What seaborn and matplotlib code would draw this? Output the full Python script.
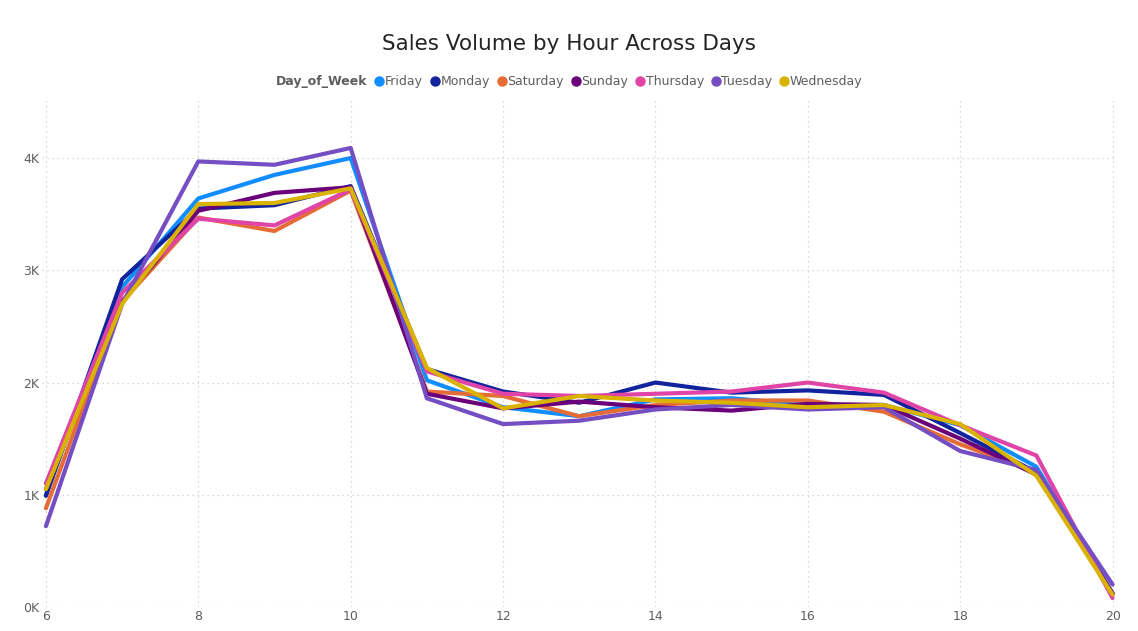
import matplotlib
matplotlib.use("Agg")
import matplotlib.pyplot as plt
import seaborn as sns
import pandas as pd
from matplotlib.ticker import FuncFormatter
from matplotlib.lines import Line2D
from matplotlib.offsetbox import HPacker

hours = list(range(6, 21))
days = ["Friday", "Monday", "Saturday", "Sunday", "Thursday", "Tuesday", "Wednesday"]
colors = ["#118DFF", "#12239E", "#E66C37", "#6B007B", "#E044A7", "#744EC2", "#D9B300"]
friday    = [1000, 2850, 3640, 3850, 4000, 2020, 1780, 1700, 1850, 1860, 1800, 1800, 1620, 1250, 120]
monday    = [990, 2920, 3550, 3580, 3750, 2120, 1920, 1820, 2000, 1910, 1930, 1890, 1550, 1200, 120]
saturday  = [880, 2720, 3470, 3350, 3710, 1920, 1880, 1700, 1800, 1840, 1840, 1740, 1450, 1200, 110]
sunday    = [1050, 2720, 3530, 3690, 3740, 1900, 1770, 1830, 1780, 1750, 1810, 1800, 1500, 1180, 120]
thursday  = [1100, 2800, 3460, 3400, 3720, 2100, 1900, 1880, 1900, 1920, 2000, 1910, 1620, 1350, 80]
tuesday   = [720, 2700, 3970, 3940, 4090, 1860, 1630, 1660, 1760, 1800, 1760, 1780, 1390, 1220, 200]
wednesday = [1050, 2700, 3590, 3600, 3730, 2130, 1770, 1880, 1840, 1820, 1780, 1800, 1630, 1170, 110]
series = [friday, monday, saturday, sunday, thursday, tuesday, wednesday]

df = pd.concat([pd.DataFrame({"Hour": hours, "Sales": v, "Day_of_Week": d}) for d, v in zip(days, series)])

sns.set_theme(style="white")
plt.rcParams['font.family'] = ['Segoe UI', 'DejaVu Sans']
fig, ax = plt.subplots(figsize=(11.38, 6.31), dpi=100)
fig.subplots_adjust(left=0.037, right=0.981, top=0.842, bottom=0.038)
sns.lineplot(data=df, x="Hour", y="Sales", hue="Day_of_Week", palette=dict(zip(days, colors)),
             linewidth=3, ax=ax, legend=False)
ax.set_xlim(5.95, 20.05)
ax.set_ylim(0, 4520)
ax.set_xticks([6, 8, 10, 12, 14, 16, 18, 20])
ax.set_yticks([0, 1000, 2000, 3000, 4000])
ax.yaxis.set_major_formatter(FuncFormatter(lambda v, p: f"{int(v/1000)}K"))
ax.grid(True, color="#cccccc", linestyle=(0, (1, 3)), linewidth=0.9)
ax.set_xlabel(""); ax.set_ylabel("")
for s in ax.spines.values():
    s.set_visible(False)
ax.tick_params(colors="#605E5C", labelsize=9, length=0, pad=2)
fig.text(0.5, 0.92, "Sales Volume by Hour Across Days", ha="center", fontsize=15.5, color="#252423")
handles = [Line2D([], [], marker="o", linestyle="", color=c, markersize=6.5) for c in colors]
leg = fig.legend(handles, days, loc="center", bbox_to_anchor=(0.5, 0.871), ncol=7, frameon=False,
                 fontsize=9, handletextpad=-0.3, columnspacing=0.2, handlelength=1.5,
                 title="Day_of_Week", title_fontproperties={"weight": "bold", "size": 9})
for t in leg.get_texts():
    t.set_color("#605E5C")
leg.get_title().set_color("#605E5C")
box = leg._legend_box
box._children = [HPacker(children=box._children, pad=0, sep=2, align="center")]
fig.savefig("out.png")
